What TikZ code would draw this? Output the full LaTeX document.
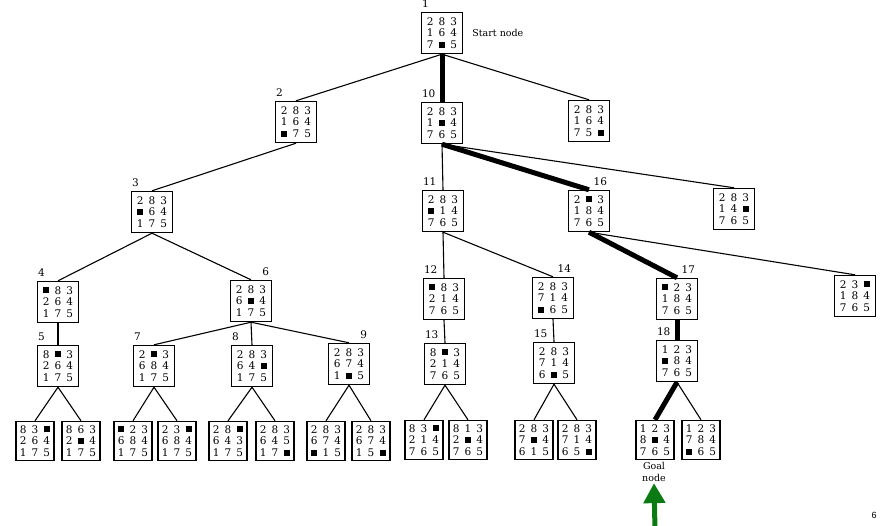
\documentclass[tikz,border=0pt]{standalone}
\usepackage{fontspec}
\usetikzlibrary{arrows.meta}
\setmainfont{DejaVu Serif}
\newfontfamily\pagefont{Liberation Sans}
\definecolor{arrowgreen}{RGB}{12,122,18}

% one tile of the 8-puzzle board, and the blank tile
\newcommand\pzc[1]{\makebox[11.8pt]{#1}}
\newcommand\bsq{\raisebox{0.8pt}{\rule{6pt}{6pt}}}
% a 3x3 board, row by row
\newcommand\pz[9]{\vbox{\baselineskip=11.6pt\lineskiplimit=-6pt
  \hbox{\pzc{#1}\pzc{#2}\pzc{#3}}%
  \hbox{\pzc{#4}\pzc{#5}\pzc{#6}}%
  \hbox{\pzc{#7}\pzc{#8}\pzc{#9}}}}

\begin{document}
\begin{tikzpicture}[x=1pt,y=-1pt,
  board/.style={draw, line width=1.4pt, fill=white, minimum width=41pt,
    minimum height=41pt, inner sep=0pt, font=\fontsize{10.5}{12}\selectfont},
  leaf/.style={board, minimum width=38pt, minimum height=39pt},
  edge/.style={line width=1.1pt},
  path/.style={line width=5pt},
  lab/.style={inner sep=0pt, font=\fontsize{10.5}{12}\selectfont}]
\useasboundingbox (0,0) rectangle (882,526);

% level 0 and 1
\node[board] (n1)  at (442,33)  {\pz{2}{8}{3}{1}{6}{4}{7}{\bsq}{5}};
\node[board] (n2)  at (296,122) {\pz{2}{8}{3}{1}{6}{4}{\bsq}{7}{5}};
\node[board] (n10) at (442,123) {\pz{2}{8}{3}{1}{\bsq}{4}{7}{6}{5}};
\node[board] (n1r) at (589,121) {\pz{2}{8}{3}{1}{6}{4}{7}{5}{\bsq}};

% level 2
\node[board] (n3)  at (152,212) {\pz{2}{8}{3}{\bsq}{6}{4}{1}{7}{5}};
\node[board] (n11) at (443,211) {\pz{2}{8}{3}{\bsq}{1}{4}{7}{6}{5}};
\node[board] (n16) at (589,211) {\pz{2}{\bsq}{3}{1}{8}{4}{7}{6}{5}};
\node[board] (n10r) at (734,209) {\pz{2}{8}{3}{1}{4}{\bsq}{7}{6}{5}};

% level 3
\node[board] (n4)  at (58,302)  {\pz{\bsq}{8}{3}{2}{6}{4}{1}{7}{5}};
\node[board] (n6)  at (251,301) {\pz{2}{8}{3}{6}{\bsq}{4}{1}{7}{5}};
\node[board] (n12) at (444,299) {\pz{\bsq}{8}{3}{2}{1}{4}{7}{6}{5}};
\node[board] (n14) at (553,298) {\pz{2}{8}{3}{7}{1}{4}{\bsq}{6}{5}};
\node[board] (n17) at (677,299) {\pz{\bsq}{2}{3}{1}{8}{4}{7}{6}{5}};
\node[board] (n16r) at (855,296) {\pz{2}{3}{\bsq}{1}{8}{4}{7}{6}{5}};

% level 4
\node[board] (n5)  at (58,366)  {\pz{8}{\bsq}{3}{2}{6}{4}{1}{7}{5}};
\node[board] (n7)  at (154,366) {\pz{2}{\bsq}{3}{6}{8}{4}{1}{7}{5}};
\node[board] (n8)  at (252,366) {\pz{2}{8}{3}{6}{4}{\bsq}{1}{7}{5}};
\node[board] (n9)  at (349,364) {\pz{2}{8}{3}{6}{7}{4}{1}{\bsq}{5}};
\node[board] (n13) at (445,364) {\pz{8}{\bsq}{3}{2}{1}{4}{7}{6}{5}};
\node[board] (n15) at (554,363) {\pz{2}{8}{3}{7}{1}{4}{6}{\bsq}{5}};
\node[board] (n18) at (677,361) {\pz{1}{2}{3}{\bsq}{8}{4}{7}{6}{5}};

% level 5
\node[leaf] (l5a)  at (35,441)  {\pz{8}{3}{\bsq}{2}{6}{4}{1}{7}{5}};
\node[leaf] (l5b)  at (81,441)  {\pz{8}{6}{3}{2}{\bsq}{4}{1}{7}{5}};
\node[leaf] (l7a)  at (133,441) {\pz{\bsq}{2}{3}{6}{8}{4}{1}{7}{5}};
\node[leaf] (l7b)  at (177,441) {\pz{2}{3}{\bsq}{6}{8}{4}{1}{7}{5}};
\node[leaf] (l8a)  at (228,441) {\pz{2}{8}{\bsq}{6}{4}{3}{1}{7}{5}};
\node[leaf] (l8b)  at (275,441) {\pz{2}{8}{3}{6}{4}{5}{1}{7}{\bsq}};
\node[leaf] (l9a)  at (326,441) {\pz{2}{8}{3}{6}{7}{4}{\bsq}{1}{5}};
\node[leaf] (l9b)  at (371,441) {\pz{2}{8}{3}{6}{7}{4}{1}{5}{\bsq}};
\node[leaf] (l13a) at (424,440) {\pz{8}{3}{\bsq}{2}{1}{4}{7}{6}{5}};
\node[leaf] (l13b) at (468,440) {\pz{8}{1}{3}{2}{\bsq}{4}{7}{6}{5}};
\node[leaf] (l15a) at (534,440) {\pz{2}{8}{3}{7}{\bsq}{4}{6}{1}{5}};
\node[leaf] (l15b) at (577,440) {\pz{2}{8}{3}{7}{1}{4}{6}{5}{\bsq}};
\node[leaf] (l18a) at (655,440) {\pz{1}{2}{3}{8}{\bsq}{4}{7}{6}{5}};
\node[leaf] (l18b) at (701,440) {\pz{1}{2}{3}{7}{8}{4}{\bsq}{6}{5}};

% order numbers of expanded boards
\foreach \n/\t in {n1/1,n2/2,n10/10,n3/3,n11/11,n4/4,n12/12,n5/5,n7/7,n8/8,n13/13,n15/15,n18/18}
  \node[lab, anchor=base west] (t\n) at ([xshift=1pt,yshift=4pt]\n.north west) {\t};
\foreach \n/\t in {n16/16,n6/6,n14/14,n17/17,n9/9}
  \node[lab, anchor=base east] (t\n) at ([xshift=-3pt,yshift=4pt]\n.north east) {\t};

\node[lab, anchor=west, font=\fontsize{9.5}{12}\selectfont] (start) at ([xshift=9pt]n1.east) {Start node};
\node[lab, align=center, font=\fontsize{9.5}{11.5}\selectfont] (goal) at (654,472) {Goal\\node};

% search tree edges
\foreach \a/\b in {n1/n2,n1/n1r,n2/n3,n10/n11,n10/n10r,n3/n4,n3/n6,n11/n12,n11/n14,
  n16/n16r,n4/n5,n6/n7,n6/n8,n6/n9,n12/n13,n14/n15,
  n5/l5a,n5/l5b,n7/l7a,n7/l7b,n8/l8a,n8/l8b,n9/l9a,n9/l9b,
  n13/l13a,n13/l13b,n15/l15a,n15/l15b,n18/l18b}
  \draw[edge] (\a.south) -- (\b.north);

% solution path
\foreach \a/\b in {n1/n10,n10/n16,n16/n17,n17/n18,n18/l18a}
  \draw[path] (\a.south) -- (\b.north);

% pointer to the goal
\coordinate (foot) at (655,530);
\draw[line width=5pt, arrowgreen, -{Triangle[width=21pt,length=20pt]}]
  (foot) -- ([yshift=-1.5pt]goal.south);

\node[inner sep=0pt, font=\pagefont\fontsize{9}{10}\selectfont] (pg) at (874,515) {6};
\end{tikzpicture}
\end{document}
